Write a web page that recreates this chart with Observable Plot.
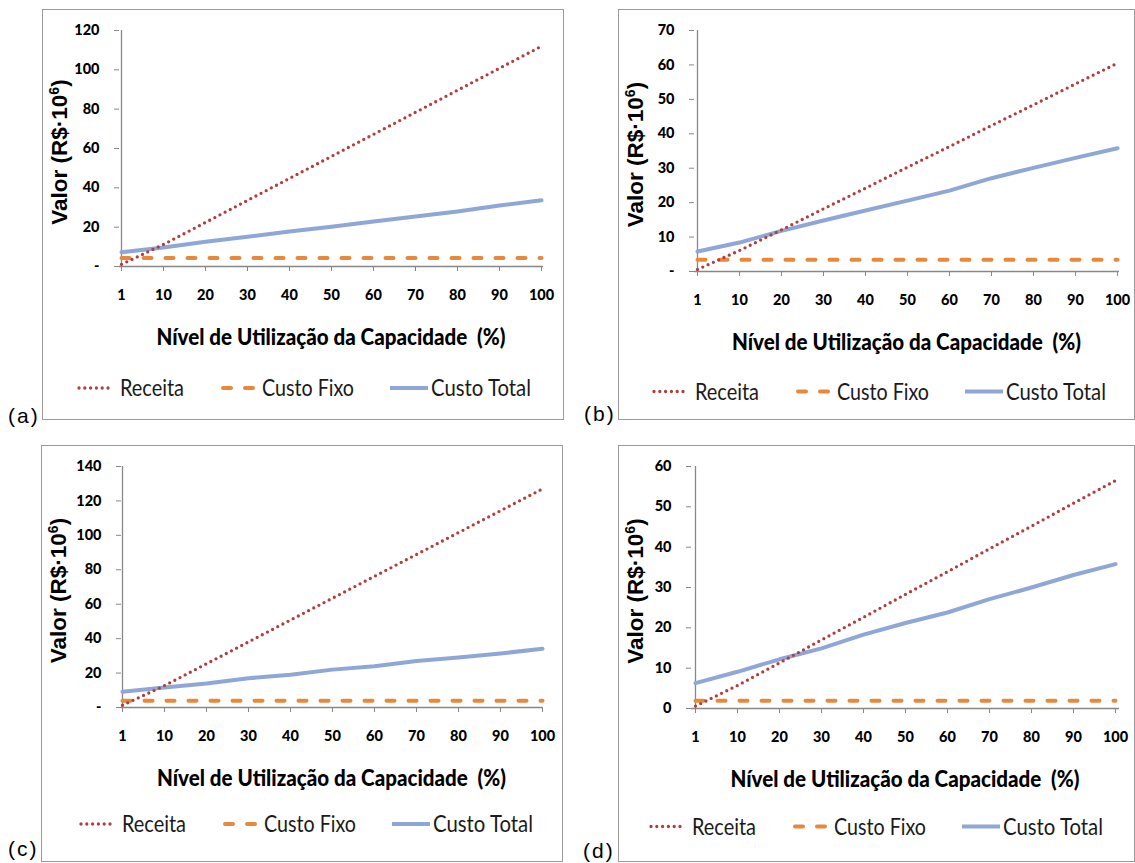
<!DOCTYPE html>
<html>
<head>
<meta charset="utf-8">
<script src="https://cdn.jsdelivr.net/npm/d3@7"></script>
<script src="https://cdn.jsdelivr.net/npm/@observablehq/plot@0.6"></script>
<style>
  html, body { margin: 0; padding: 0; background: #fff; }
  #page { position: relative; width: 1135px; height: 863px; overflow: hidden; background: #fff; }
  .box { position: absolute; box-sizing: border-box; border: 1.5px solid #9b9b9b; }
  .tag { position: absolute; font-family: "Liberation Sans", Arial, sans-serif; font-size: 21px;
         letter-spacing: 2px; color: #000; line-height: 1; white-space: nowrap; }
  #page svg { position: absolute; background: transparent; }
</style>
</head>
<body>
<div id="page"></div>
<script>
// Capacity utilisation levels (category axis)
const niveis = ["1", "10", "20", "30", "40", "50", "60", "70", "80", "90", "100"];

// Series names
const serieReceita = "Receita";
const serieFixo = "Custo Fixo";
const serieTotal = "Custo Total";

// (a)
const receitaA = [1.1, 11.2, 22.4, 33.6, 44.8, 56.0, 67.2, 78.4, 89.6, 100.8, 112.0];
const fixoA    = [4.3, 4.3, 4.3, 4.3, 4.3, 4.3, 4.3, 4.3, 4.3, 4.3, 4.3];
const totalA   = [7.2, 9.7, 12.6, 15.1, 17.8, 20.2, 22.9, 25.4, 28.0, 31.0, 33.7];
const ticksA   = [0, 20, 40, 60, 80, 100, 120];

// (b)
const receitaB = [0.6, 6.1, 12.1, 18.2, 24.2, 30.3, 36.3, 42.4, 48.4, 54.5, 60.5];
const fixoB    = [3.4, 3.4, 3.4, 3.4, 3.4, 3.4, 3.4, 3.4, 3.4, 3.4, 3.4];
const totalB   = [5.8, 8.4, 11.8, 14.8, 17.7, 20.6, 23.5, 27.1, 30.1, 33.0, 35.8];
const ticksB   = [0, 10, 20, 30, 40, 50, 60, 70];

// (c)
const receitaC = [1.3, 12.7, 25.4, 38.1, 50.8, 63.5, 76.2, 88.9, 101.6, 114.3, 127.0];
const fixoC    = [3.9, 3.9, 3.9, 3.9, 3.9, 3.9, 3.9, 3.9, 3.9, 3.9, 3.9];
const totalC   = [9.1, 11.6, 13.9, 17.0, 19.0, 22.0, 24.0, 27.0, 29.0, 31.4, 34.1];
const ticksC   = [0, 20, 40, 60, 80, 100, 120, 140];

// (d)
const receitaD = [0.6, 5.7, 11.3, 17.0, 22.6, 28.3, 33.9, 39.6, 45.2, 50.9, 56.5];
const fixoD    = [1.9, 1.9, 1.9, 1.9, 1.9, 1.9, 1.9, 1.9, 1.9, 1.9, 1.9];
const totalD   = [6.3, 9.1, 12.2, 14.9, 18.3, 21.2, 23.8, 27.1, 30.0, 33.1, 35.8];
const ticksD   = [0, 10, 20, 30, 40, 50, 60];

// Text
const tituloX = "Nível de Utilização da Capacidade  (%)";
const tituloY = ["Valor (R$·10", "6", ")"];

// Styles
const corReceita = "#b13f3c";
const corFixo = "#e8883a";
const corTotal = "#8fa7d6";
const corEixo = "#878787";
const dashReceita = "0,5.8";
const dashFixo = "8,14";

const painéis = [
  { tag: "(a)", tagPos: [8, 405], box: { left: 42, top: 9, w: 522, h: 411 },
    m: { l: 77, r: 21, t: 21, b: 154 }, receita: receitaA, fixo: fixoA, total: totalA,
    ticks: ticksA, zero: "-", legendY: 379 },
  { tag: "(b)", tagPos: [584, 403], box: { left: 618, top: 9, w: 517, h: 411 },
    m: { l: 76, r: 16, t: 21, b: 149 }, receita: receitaB, fixo: fixoB, total: totalB,
    ticks: ticksB, zero: "-", legendY: 382.5 },
  { tag: "(c)", tagPos: [8, 838], box: { left: 41, top: 445, w: 522, h: 417 },
    m: { l: 80, r: 21, t: 21, b: 155 }, receita: receitaC, fixo: fixoC, total: totalC,
    ticks: ticksC, zero: "-", legendY: 379 },
  { tag: "(d)", tagPos: [583, 840], box: { left: 618, top: 445, w: 517, h: 417 },
    m: { l: 73, r: 16, t: 21, b: 154 }, receita: receitaD, fixo: fixoD, total: totalD,
    ticks: ticksD, zero: "0", legendY: 381.5 }
];

const page = document.getElementById("page");

function desenhar(p) {
  const dados = niveis.map((n, i) => ({
    nivel: n, receita: p.receita[i], fixo: p.fixo[i], total: p.total[i]
  }));
  const ymax = p.ticks[p.ticks.length - 1];

  const chart = Plot.plot({
    width: p.box.w,
    height: p.box.h,
    marginLeft: p.m.l,
    marginRight: p.m.r,
    marginTop: p.m.t,
    marginBottom: p.m.b,
    style: { fontFamily: "Lato, sans-serif", fontSize: "14.5px", fontWeight: "900",
             color: "#000", background: "transparent", overflow: "visible" },
    x: { type: "point", domain: niveis, padding: 0, label: null },
    y: { domain: [0, ymax], label: null },
    marks: [
      Plot.ruleY([0], { stroke: corEixo, strokeWidth: 1.3 }),
      Plot.ruleX([niveis[0]], { stroke: corEixo, strokeWidth: 1.3 }),
      Plot.axisY({ ticks: p.ticks, tickSize: 5, tickPadding: 15, stroke: corEixo, fill: "#000",
                   tickFormat: d => d === 0 ? p.zero : String(d) }),
      Plot.axisX({ tickSize: 5, tickPadding: 18, stroke: corEixo, fill: "#000" }),
      Plot.line(dados, { x: "nivel", y: "fixo", stroke: corFixo, strokeWidth: 4,
                         strokeDasharray: dashFixo, strokeLinecap: "round" }),
      Plot.line(dados, { x: "nivel", y: "total", stroke: corTotal, strokeWidth: 4 }),
      Plot.line(dados, { x: "nivel", y: "receita", stroke: corReceita, strokeWidth: 3.3,
                         strokeDasharray: dashReceita, strokeLinecap: "round" })
    ]
  });

  const box = document.createElement("div");
  box.className = "box";
  Object.assign(box.style, { left: p.box.left + "px", top: p.box.top + "px",
                             width: p.box.w + "px", height: p.box.h + "px" });
  page.appendChild(box);

  chart.style.left = p.box.left + "px";
  chart.style.top = p.box.top + "px";
  page.appendChild(chart);

  const svg = d3.select(chart);
  const x0 = p.m.l;
  const x1 = p.box.w - p.m.r;
  const yBase = p.box.h - p.m.b;
  const yMid = p.m.t + (yBase - p.m.t) / 2;

  // y title, rotated
  const yt = svg.append("text")
    .attr("transform", `translate(17,${yMid + 4}) rotate(-90)`)
    .attr("text-anchor", "middle")
    .attr("dy", "0.36em")
    .style("font-family", "'Liberation Sans', Arial, sans-serif")
    .style("font-size", "22.5px")
    .style("font-weight", "bold")
    .attr("fill", "#000");
  yt.append("tspan").text(tituloY[0]);
  yt.append("tspan").attr("dy", -8).style("font-size", "14px").text(tituloY[1]);
  yt.append("tspan").attr("dy", 8).text(tituloY[2]);

  // x title
  svg.append("text")
    .attr("x", (x0 + x1) / 2)
    .attr("y", yBase + 71)
    .attr("dy", "0.36em")
    .attr("text-anchor", "middle")
    .attr("textLength", 349)
    .attr("lengthAdjust", "spacingAndGlyphs")
    .style("font-family", "Lato, sans-serif")
    .style("font-size", "22px")
    .style("font-weight", "900")
    .attr("fill", "#000")
    .text(tituloX);

  // legend
  const lg = svg.append("g").attr("transform", `translate(${x0},${p.legendY})`);
  const itens = [
    { nome: serieReceita, a: -40, b: -7, tx: 1, len: 64, stroke: corReceita, w: 3.3, dash: dashReceita },
    { nome: serieFixo, a: 104, b: 135, tx: 143, len: 92, stroke: corFixo, w: 4, dash: dashFixo },
    { nome: serieTotal, a: 271, b: 309, tx: 312, len: 100, stroke: corTotal, w: 4, dash: null }
  ];
  for (const it of itens) {
    const ln = lg.append("line")
      .attr("x1", it.a).attr("x2", it.b).attr("y1", 0).attr("y2", 0)
      .attr("stroke", it.stroke).attr("stroke-width", it.w);
    if (it.dash) ln.attr("stroke-dasharray", it.dash).attr("stroke-linecap", "round");
    lg.append("text")
      .attr("x", it.tx).attr("y", 0).attr("dy", "0.36em")
      .attr("text-anchor", "start")
      .attr("textLength", it.len)
      .attr("lengthAdjust", "spacingAndGlyphs")
      .style("font-family", "Lato, sans-serif")
      .style("font-size", "23px")
      .style("font-weight", "normal")
      .attr("fill", "#1a1a1a")
      .text(it.nome);
  }

  const tag = document.createElement("div");
  tag.className = "tag";
  tag.textContent = p.tag;
  tag.style.left = p.tagPos[0] + "px";
  tag.style.top = p.tagPos[1] + "px";
  page.appendChild(tag);
}

painéis.forEach(desenhar);
</script>
</body>
</html>
